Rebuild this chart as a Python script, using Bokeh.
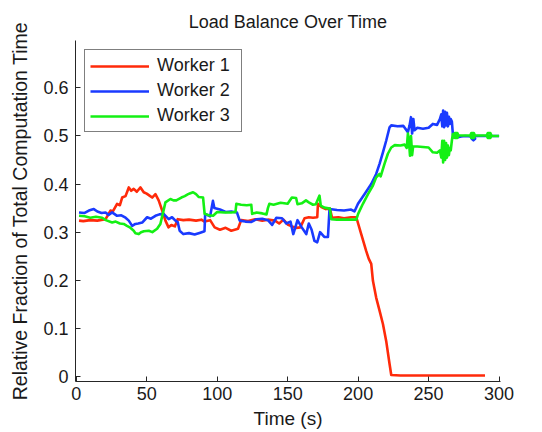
from bokeh.plotting import figure
from bokeh.models import Range1d, FixedTicker, Legend, LegendItem
from bokeh.embed import file_html
from bokeh.resources import INLINE

# ---- data ----
t1 = [2, 5, 10, 15, 20.8, 22, 24.3, 26, 29, 31, 32.6, 35, 37.3, 39, 40.8, 43, 45.6, 47.9, 50, 52,
      53.9, 56.2, 58.5, 61, 63.3, 65.5, 67.5, 70, 72, 76, 80, 85, 88.8, 91, 95, 98.2, 102, 106, 110,
      114.8, 117, 122, 127, 132, 136, 138.4, 141, 144, 147, 150, 153, 156, 159, 162, 165, 168, 171,
      171.5, 174, 177, 180, 181.5, 186, 190, 195, 198.7, 202.2, 205.7, 207.5, 209.3, 210.5, 212.8,
      215.2, 217.6, 219.9, 222.3, 223.5, 230, 250, 270, 290]
w1 = [0.324, 0.323, 0.325, 0.324, 0.327, 0.333, 0.345, 0.343, 0.359, 0.356, 0.372, 0.375, 0.393,
      0.386, 0.390, 0.384, 0.393, 0.383, 0.380, 0.376, 0.372, 0.379, 0.366, 0.345, 0.324, 0.310,
      0.315, 0.312, 0.327, 0.325, 0.326, 0.324, 0.326, 0.322, 0.325, 0.310, 0.305, 0.309, 0.303,
      0.307, 0.325, 0.323, 0.327, 0.324, 0.326, 0.325, 0.324, 0.318, 0.326, 0.316, 0.312, 0.309,
      0.310, 0.329, 0.331, 0.330, 0.331, 0.359, 0.352, 0.348, 0.349, 0.330, 0.331, 0.329, 0.331,
      0.331, 0.296, 0.261, 0.245, 0.234, 0.199, 0.164, 0.137, 0.109, 0.074, 0.026, 0.003, 0.002,
      0.002, 0.002, 0.002]

t2 = [2, 6, 9, 12.5, 15, 18, 20.8, 23, 25.5, 29, 32, 35, 37.3, 39.7, 42, 44, 46.8, 50.3, 53, 56.2,
      59, 62, 65.6, 68, 70.4, 72, 73.4, 76, 80, 84, 88, 91, 91.5, 95, 97, 98, 102, 106, 110, 114,
      116, 120, 124, 128, 132, 136, 139, 142, 146, 149, 152, 154, 157, 160, 163.2, 165, 167, 169,
      171, 173, 176, 178.6, 179.7, 185, 190, 195, 197.4, 199.9, 204.5, 209.3, 212.8, 215.2, 217.6,
      219.9, 222.3, 223.5, 228, 232, 235.3, 236.5, 237.5, 238.3, 239.2, 240, 242, 246, 250, 253,
      256, 258, 259, 259.7, 260.3, 261, 261.7, 262.4, 263, 263.7, 264.4, 265, 265.7, 266.5, 267.4,
      270, 273, 276, 280, 280.6, 281.8, 283, 281.8, 280.6, 285, 290, 295, 300]
w2 = [0.341, 0.340, 0.345, 0.348, 0.343, 0.340, 0.341, 0.336, 0.341, 0.334, 0.335, 0.330, 0.324,
      0.313, 0.317, 0.318, 0.320, 0.331, 0.328, 0.334, 0.337, 0.338, 0.327, 0.331, 0.324, 0.321,
      0.303, 0.296, 0.298, 0.295, 0.299, 0.302, 0.338, 0.333, 0.365, 0.350, 0.347, 0.342, 0.343,
      0.341, 0.324, 0.322, 0.321, 0.327, 0.328, 0.325, 0.315, 0.330, 0.329, 0.318, 0.322, 0.296,
      0.325, 0.310, 0.296, 0.318, 0.305, 0.282, 0.279, 0.300, 0.290, 0.290, 0.348, 0.346, 0.345,
      0.347, 0.343, 0.359, 0.379, 0.400, 0.421, 0.442, 0.466, 0.490, 0.518, 0.522, 0.520, 0.521,
      0.508, 0.522, 0.539, 0.505, 0.535, 0.512, 0.517, 0.515, 0.517, 0.525, 0.523, 0.535, 0.545,
      0.520, 0.553, 0.518, 0.550, 0.522, 0.548, 0.520, 0.540, 0.525, 0.535, 0.530, 0.497, 0.497,
      0.499, 0.500, 0.499, 0.494, 0.491, 0.494, 0.498, 0.499, 0.500, 0.500, 0.500, 0.500]

t3 = [2, 6, 10, 14, 18.4, 21, 25.5, 28, 31, 33.7, 36, 38, 40.8, 42, 44.4, 46, 48, 51.5, 54, 57.4,
      59.7, 61.4, 63.3, 66.8, 69, 71, 74.6, 77, 79.4, 81, 82.9, 85, 87, 90, 91.1, 94, 97.1, 100, 105,
      110, 113, 113.6, 117, 121, 124.2, 124.8, 128, 132, 135, 136, 137, 140, 145, 150, 153, 156, 157,
      160, 163, 165, 168, 170, 172.6, 173.5, 176, 180, 180.9, 185, 190, 195, 198.7, 200, 203.4, 207,
      210.5, 212.8, 215.2, 216, 218.7, 221.1, 223.5, 226, 230, 233, 234.5, 235.3, 236, 236.8, 237.5,
      238.3, 239, 242, 246, 250, 253, 256, 258, 259, 259.7, 260.3, 261, 261.7, 262.4, 263, 263.7,
      264.4, 265, 265.7, 266.5, 267.2, 267.8, 268.6, 270.4, 271.2, 270.4, 268.6, 267.8, 275, 279.5,
      280.3, 282.1, 282.9, 282.1, 280.3, 279.5, 286, 291.2, 292, 293.8, 294.6, 293.8, 292, 291.2,
      296, 300]
w3 = [0.334, 0.333, 0.330, 0.332, 0.330, 0.325, 0.320, 0.322, 0.318, 0.317, 0.313, 0.310, 0.303,
      0.298, 0.296, 0.300, 0.302, 0.303, 0.300, 0.307, 0.317, 0.338, 0.362, 0.369, 0.366, 0.366,
      0.372, 0.375, 0.379, 0.381, 0.383, 0.379, 0.373, 0.372, 0.338, 0.335, 0.334, 0.342, 0.341,
      0.341, 0.342, 0.359, 0.357, 0.356, 0.357, 0.338, 0.341, 0.339, 0.337, 0.350, 0.359, 0.357,
      0.361, 0.359, 0.372, 0.371, 0.358, 0.360, 0.366, 0.362, 0.357, 0.358, 0.376, 0.355, 0.351,
      0.349, 0.327, 0.326, 0.326, 0.326, 0.326, 0.338, 0.359, 0.379, 0.397, 0.414, 0.421, 0.416,
      0.442, 0.463, 0.476, 0.481, 0.480, 0.482, 0.475, 0.505, 0.490, 0.459, 0.500, 0.460, 0.478,
      0.478, 0.477, 0.476, 0.466, 0.465, 0.470, 0.455, 0.490, 0.445, 0.490, 0.450, 0.485, 0.455,
      0.480, 0.460, 0.475, 0.470, 0.490, 0.504, 0.501, 0.506, 0.506, 0.501, 0.496, 0.496, 0.501,
      0.501, 0.501, 0.506, 0.506, 0.501, 0.496, 0.496, 0.501, 0.501, 0.501, 0.506, 0.506, 0.501,
      0.496, 0.496, 0.501, 0.500, 0.500]

series_names = ["Worker 1", "Worker 2", "Worker 3"]
series_colors = ["#ff2a0a", "#1a3aff", "#14f014"]
x_ticks = [0, 50, 100, 150, 200, 250, 300]
y_ticks = [0, 0.1, 0.2, 0.3, 0.4, 0.5, 0.6]
y_tick_labels = ["0", "0.1", "0.2", "0.3", "0.4", "0.5", "0.6"]
x_label = "Time (s)"
y_label = "Relative Fraction of Total Computation Time"
title_text = "Load Balance Over Time"

FONT = "Liberation Sans"
TXT = "#1a1a1a"

p = figure(width=542, height=432, output_backend="svg", toolbar_location=None,
           x_range=Range1d(-0.5, 301), y_range=Range1d(-0.0104, 0.6984),
           min_border_left=75, min_border_right=42, min_border_top=40, min_border_bottom=51,
           title=title_text)
p.title.align = "center"
p.title.text_font = FONT
p.title.text_font_size = "18px"
p.title.text_font_style = "normal"
p.title.text_color = TXT
p.title.standoff = 17

p.outline_line_color = None
p.xgrid.visible = False
p.ygrid.visible = False
p.background_fill_color = "white"
p.border_fill_color = "white"

for ax in (p.xaxis[0], p.yaxis[0]):
    ax.axis_line_color = "#262626"
    ax.axis_line_width = 1
    ax.major_tick_line_color = "#262626"
    ax.major_tick_in = 5
    ax.major_tick_out = 0
    ax.minor_tick_line_color = None
    ax.major_label_text_font = FONT
    ax.major_label_text_font_size = "18px"
    ax.major_label_text_color = TXT
    ax.axis_label_text_font = FONT
    ax.axis_label_text_font_size = "19px"
    ax.axis_label_text_font_style = "normal"
    ax.axis_label_text_color = TXT

p.yaxis.axis_label_text_font_size = "19.5px"
p.xaxis.ticker = FixedTicker(ticks=x_ticks)
p.yaxis.ticker = FixedTicker(ticks=y_ticks)
p.yaxis.major_label_overrides = {v: s for v, s in zip(y_ticks, y_tick_labels)}
p.xaxis.axis_label = x_label
p.yaxis.axis_label = y_label
p.xaxis.major_label_standoff = 5
p.xaxis.axis_label_standoff = 5
p.yaxis.major_label_standoff = 7
p.yaxis.axis_label_standoff = 9

items = []
for (tx, wy), name, col in zip([(t1, w1), (t2, w2), (t3, w3)], series_names, series_colors):
    r = p.line(tx, wy, line_color=col, line_width=2.6, line_join="round")
    items.append(LegendItem(label=name, renderers=[r]))

legend = Legend(items=items, location="top_left")
legend.margin = 9
legend.padding = 5
legend.spacing = 4
legend.glyph_width = 59
legend.glyph_height = 18
legend.label_height = 18
legend.label_width = 79
legend.label_standoff = 8
legend.label_text_font = FONT
legend.label_text_font_size = "18px"
legend.label_text_color = TXT
legend.border_line_color = "black"
legend.border_line_width = 1
legend.background_fill_alpha = 1
p.add_layout(legend)

open("out.html", "w").write(file_html(p, INLINE))
